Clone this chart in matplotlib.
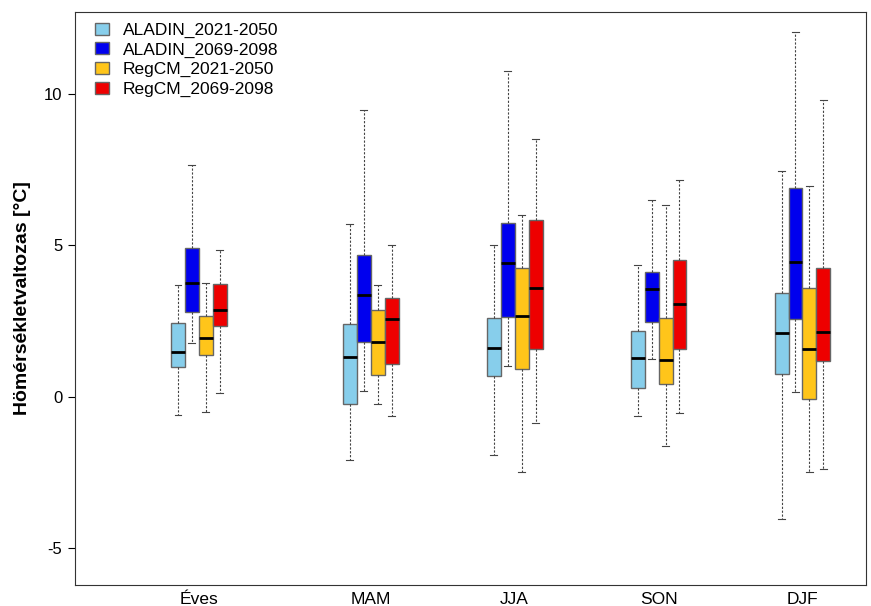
import numpy as np
import matplotlib
matplotlib.use("Agg")
import matplotlib.pyplot as plt
from matplotlib.patches import Patch

plt.rcParams['font.family'] = ['Liberation Sans', 'DejaVu Sans']

seasons = ['Éves', 'MAM', 'JJA', 'SON', 'DJF']
series = ['ALADIN_2021-2050', 'ALADIN_2069-2098', 'RegCM_2021-2050', 'RegCM_2069-2098']
colors = ['#87CEEB', '#0000EE', '#FFC51A', '#EE0000']

# per series: rows = seasons, cols = (whislo, q1, med, q3, whishi)
aladin_2021 = [[-0.59, 0.99, 1.49, 2.44, 3.70],
               [-2.08, -0.24, 1.31, 2.41, 5.72],
               [-1.91, 0.70, 1.63, 2.61, 5.03],
               [-0.64, 0.29, 1.30, 2.16, 4.35],
               [-4.03, 0.76, 2.10, 3.43, 7.46]]
aladin_2069 = [[1.78, 2.81, 3.77, 4.91, 7.66],
               [0.19, 1.81, 3.37, 4.68, 9.47],
               [1.02, 2.64, 4.43, 5.73, 10.77],
               [1.24, 2.47, 3.56, 4.12, 6.50],
               [0.15, 2.57, 4.45, 6.89, 12.04]]
regcm_2021 = [[-0.50, 1.39, 1.96, 2.66, 3.77],
              [-0.23, 0.73, 1.81, 2.86, 3.70],
              [-2.48, 0.91, 2.67, 4.27, 6.01],
              [-1.61, 0.43, 1.22, 2.62, 6.35],
              [-2.49, -0.08, 1.57, 3.60, 6.97]]
regcm_2069 = [[0.12, 2.35, 2.88, 3.72, 4.86],
              [-0.63, 1.08, 2.58, 3.28, 5.02],
              [-0.85, 1.59, 3.61, 5.84, 8.50],
              [-0.52, 1.59, 3.07, 4.53, 7.16],
              [-2.39, 1.18, 2.15, 4.25, 9.80]]
data = [aladin_2021, aladin_2069, regcm_2021, regcm_2069]

centers = np.array([0.806, 2, 3, 4, 5])
bw = 0.097

fig = plt.figure(figsize=(8.71, 6.06), dpi=100)
ax = fig.add_axes([0.086, 0.035, 0.908, 0.945])

for i, (s, c) in enumerate(zip(data, colors)):
    stats = []
    for row in s:
        lo, q1, med, q3, hi = row
        stats.append(dict(whislo=lo, q1=q1, med=med, q3=q3, whishi=hi, fliers=[]))
    pos = centers + (i - 1.5) * bw
    ax.bxp(stats, positions=pos, widths=bw, patch_artist=True, showfliers=False,
           manage_ticks=False,
           boxprops=dict(facecolor=c, edgecolor='#666666', linewidth=1.0),
           medianprops=dict(color='black', linewidth=2.0),
           whiskerprops=dict(color='#444444', linewidth=0.8, linestyle=(0, (2, 1.5))),
           capprops=dict(color='#444444', linewidth=0.8),
           capwidths=bw * 0.5)

ax.set_xlim(-0.056, 5.44)
ax.set_ylim(-6.2, 12.7)
ax.set_xticks(centers)
ax.set_xticklabels(seasons, fontsize=12.5)
ax.tick_params(axis='x', length=0, pad=5)
ax.set_yticks([-5, 0, 5, 10])
ax.set_yticklabels(['-5', '0', '5', '10'], fontsize=12)
ax.tick_params(axis='y', length=5, pad=4)
ax.set_ylabel('Hömérsékletvaltozas [°C]', fontsize=14, fontweight='bold', labelpad=9)

for sp in ax.spines.values():
    sp.set_color('#333333')

handles = [Patch(facecolor=c, edgecolor='#666666') for c in colors]
ax.legend(handles, series, loc='upper left', frameon=False, fontsize=12.5,
          handlelength=0.8, handleheight=0.7, handletextpad=0.8,
          labelspacing=0.26, borderaxespad=0.2, bbox_to_anchor=(0.012, 1.0))

fig.savefig('out.png', dpi=100)
